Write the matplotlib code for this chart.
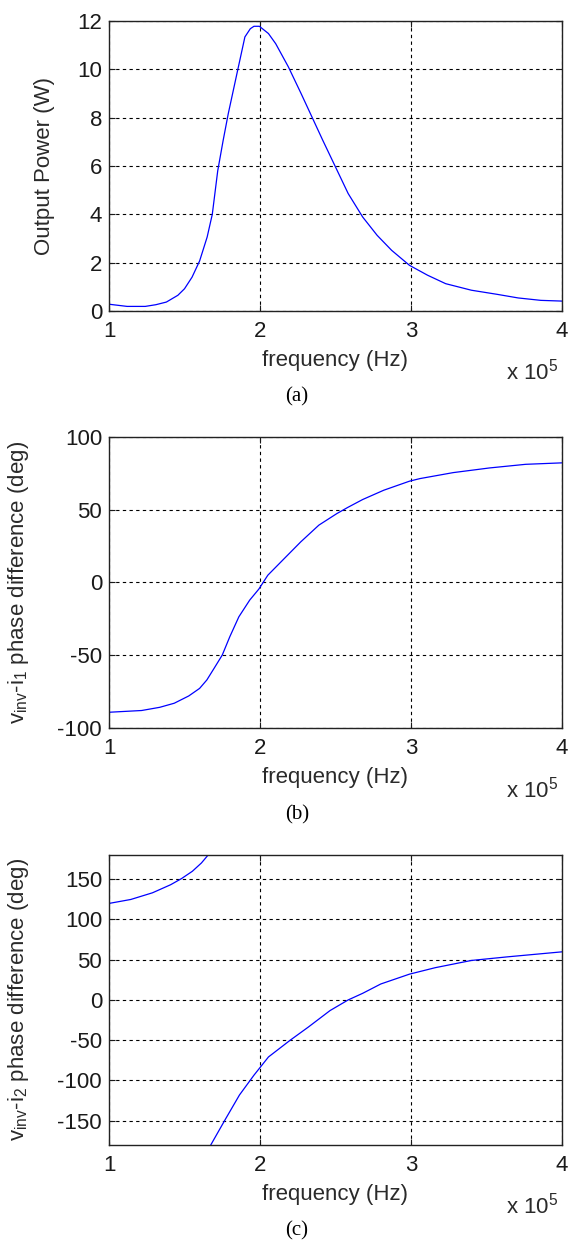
import numpy as np
import matplotlib
matplotlib.use("Agg")
import matplotlib.pyplot as plt

plt.rcParams["font.family"] = ["Liberation Sans", "DejaVu Sans"]
plt.rcParams["mathtext.default"] = "regular"
plt.rcParams["axes.unicode_minus"] = False

# frequency in units of 1e5 Hz
freq_a = [1.0, 1.12, 1.24, 1.31, 1.38, 1.456, 1.50, 1.55, 1.60, 1.65, 1.684, 1.72,
          1.756, 1.79, 1.852, 1.90, 1.936, 1.96, 1.996, 2.056, 2.104, 2.188, 2.272,
          2.344, 2.416, 2.50, 2.584, 2.68, 2.776, 2.872, 2.99, 3.11, 3.23, 3.40,
          3.57, 3.71, 3.86, 4.0]
power = [0.28, 0.19, 0.19, 0.26, 0.37, 0.65, 0.92, 1.4, 2.07, 3.06, 4.0, 5.8,
         7.06, 8.17, 9.96, 11.34, 11.68, 11.78, 11.78, 11.48, 11.06, 10.1, 9.0,
         8.03, 7.06, 5.96, 4.86, 3.89, 3.13, 2.51, 1.89, 1.48, 1.13, 0.86,
         0.69, 0.54, 0.44, 0.41]

freq_b = [1.0, 1.216, 1.336, 1.432, 1.528, 1.60, 1.648, 1.696, 1.75, 1.80, 1.86,
          1.932, 1.992, 2.052, 2.15, 2.27, 2.39, 2.51, 2.58, 2.68, 2.82, 2.99,
          3.06, 3.28, 3.52, 3.76, 4.0]
phase_1 = [-89.2, -88, -85.8, -83, -78, -72.8, -67, -59, -49.9, -37.3, -23.6,
           -12.1, -4.6, 5, 15.3, 27.9, 39.4, 47.4, 51.5, 57, 63.4, 69.6,
           71.4, 75.5, 78.7, 81.2, 82.2]

# phase 2 wraps at +/-180 deg, kept as two branches
freq_c1 = [1.0, 1.144, 1.288, 1.408, 1.48, 1.552, 1.612, 1.648, 1.656]
phase_2a = [119.8, 124.7, 133, 143, 150.6, 159.7, 170, 178, 180]
freq_c2 = [1.674, 1.768, 1.864, 1.96, 2.056, 2.20, 2.32, 2.464, 2.584, 2.68,
           2.80, 2.99, 3.16, 3.40, 3.64, 4.0]
phase_2b = [-180, -149, -118, -93.4, -70.8, -50, -33.7, -13.2, 0, 8.2,
            19.8, 32, 40, 49, 53.5, 59.7]

fig = plt.figure(figsize=(5.69, 12.41), dpi=100)
ax_a = fig.add_axes([0.1916, 0.7494, 0.796, 0.2337])
ax_b = fig.add_axes([0.1916, 0.4134, 0.796, 0.2345])
ax_c = fig.add_axes([0.1916, 0.0774, 0.796, 0.2337])

ax_a.plot(freq_a, power, color="#0000ff", linewidth=0.9)
ax_b.plot(freq_b, phase_1, color="#0000ff", linewidth=0.9)
ax_c.plot(freq_c1 + [np.nan] + freq_c2, phase_2a + [np.nan] + phase_2b,
          color="#0000ff", linewidth=0.9)

ax_a.set_ylim(0, 12)
ax_a.set_yticks(range(0, 13, 2))
ax_b.set_ylim(-100, 100)
ax_b.set_yticks(range(-100, 101, 50))
ax_c.set_ylim(-180, 180)
ax_c.set_yticks(range(-150, 151, 50))

lab_kw = dict(fontsize=16, color="#2a2a2a")
ax_a.set_ylabel("Output Power (W)", **lab_kw)
ax_b.set_ylabel("$v_{inv}$-$i_1$ phase difference (deg)", **lab_kw)
ax_c.set_ylabel("$v_{inv}$-$i_2$ phase difference (deg)", **lab_kw)
ax_a.yaxis.set_label_coords(-0.12, 0.5)
ax_b.yaxis.set_label_coords(-0.172, 0.5)
ax_c.yaxis.set_label_coords(-0.172, 0.5)

captions = ["(a)", "(b)", "(c)"]
for ax, cap in zip([ax_a, ax_b, ax_c], captions):
    ax.set_xlim(1, 4)
    ax.set_xticks([1, 2, 3, 4])
    ax.grid(True, color="black", linestyle=(0, (3, 3)), linewidth=0.8)
    ax.tick_params(direction="in", top=True, right=True, length=4,
                   labelsize=16, colors="#1a1a1a")
    ax.tick_params(axis="x", pad=7)
    ax.tick_params(axis="y", pad=5)
    for s in ax.spines.values():
        s.set_linewidth(1.0)
        s.set_color("#222222")
    ax.set_xlabel("frequency (Hz)", va="center", **lab_kw)
    ax.xaxis.set_label_coords(0.5, -0.17)
    ax.text(0.992, -0.21, "x 10$^5$", transform=ax.transAxes, ha="right",
            va="center", **lab_kw)
    ax.text(0.415, -0.297, cap, transform=ax.transAxes, ha="center", va="center",
            fontsize=15, family="Liberation Serif")

fig.savefig("out.png", dpi=100)
